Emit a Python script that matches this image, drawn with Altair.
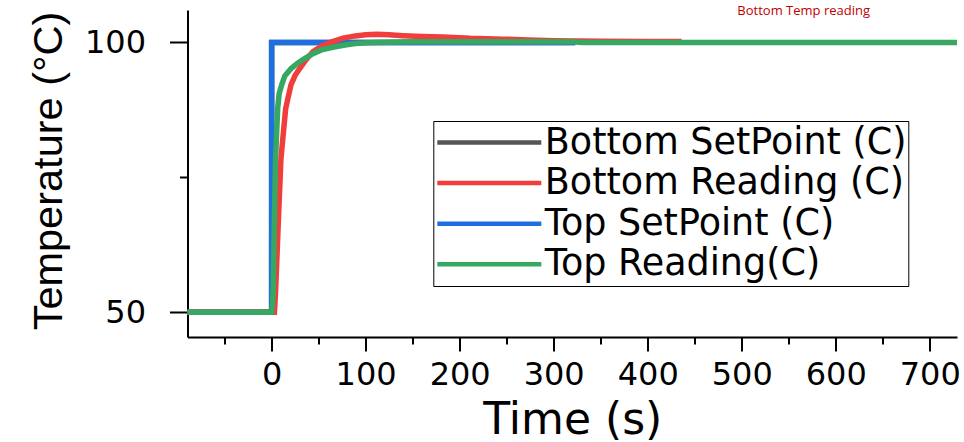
import altair as alt
import pandas as pd

# ---------------- data ----------------
series_names = ["Bottom SetPoint (C)", "Bottom Reading (C)", "Top SetPoint (C)", "Top Reading(C)"]
series_colors = ["#555555", "#f23d3d", "#1e6fe0", "#36a862"]
draw_order = ["Bottom SetPoint (C)", "Top SetPoint (C)", "Bottom Reading (C)", "Top Reading(C)"]

bottom_sp_t = [-89.5, 0, 0, 323]
bottom_sp_v = [50, 50, 100, 100]

top_sp_t = [-89.5, 0, 0, 323]
top_sp_v = [50, 50, 100, 100]

bottom_rd_t = [-89.5, 3, 4.2, 7, 9.9, 14.9, 20.5, 25, 30, 37, 44, 53, 64, 76, 89, 100,
               112, 125, 140, 160, 182, 211, 246, 273, 300, 350, 400, 436]
bottom_rd_v = [50, 50, 53.9, 66.2, 78.5, 87.7, 92.1, 93.9, 95.2, 96.9, 98.3, 99.3, 100.1,
               100.8, 101.2, 101.4, 101.5, 101.4, 101.25, 101.1, 101.0, 100.75, 100.6,
               100.45, 100.3, 100.2, 100.17, 100.15]

top_rd_t = [-89.5, 0, 1, 1.7, 2.8, 4.2, 6.4, 8, 10.6, 14, 21, 28, 35, 44, 53, 65, 78, 89,
            110, 150, 200, 260, 320, 330, 450, 600, 729]
top_rd_v = [50, 50, 51.5, 53.9, 66.2, 78.5, 87.7, 90.5, 92.1, 93.8, 95.2, 96.2, 97.0, 97.9,
            98.6, 99.1, 99.5, 99.8, 100.0, 100.1, 100.1, 100.1, 100.1, 100.0, 100.0, 100.0,
            100.0]

x_tick_values = [-50, 0, 50, 100, 150, 200, 250, 300, 350, 400, 450, 500, 550, 600, 650, 700]
y_tick_values = [50, 75, 100]
x_domain = [-89.5, 729]
y_domain = [45.4, 106]

x_title = "Time (s)"
y_title = "Temperature (°C)"
top_note = "Bottom Temp reading"

# ---------------- table ----------------
rows = []
for name, ts, vs in [
    (series_names[0], bottom_sp_t, bottom_sp_v),
    (series_names[1], bottom_rd_t, bottom_rd_v),
    (series_names[2], top_sp_t, top_sp_v),
    (series_names[3], top_rd_t, top_rd_v),
]:
    for i, (t, v) in enumerate(zip(ts, vs)):
        rows.append({"series": name, "t": t, "v": v, "idx": i})
df = pd.DataFrame(rows)

x_enc = alt.X(
    "t:Q",
    scale=alt.Scale(domain=x_domain, nice=False, zero=False),
    axis=alt.Axis(
        values=x_tick_values,
        labelExpr="datum.value % 100 === 0 ? datum.label : ''",
        tickSize={"condition": {"test": "datum.value % 100 === 0", "value": 14}, "value": 7},
        tickWidth=2, tickColor="black", domainWidth=2, domainColor="black",
        labelFont="DejaVu Sans", labelFontSize=32, labelColor="black", labelPadding=8,
        labelFlush=False, grid=False,
        title=x_title, titleFont="DejaVu Sans", titleFontSize=44, titleFontWeight="normal",
        titleColor="black", titleBaseline="alphabetic", titleY=96,
    ),
)
y_enc = alt.Y(
    "v:Q",
    scale=alt.Scale(domain=y_domain, nice=False, zero=False),
    axis=alt.Axis(
        values=y_tick_values,
        labelExpr="datum.value % 50 === 0 ? datum.label : ''",
        tickSize={"condition": {"test": "datum.value % 50 === 0", "value": 18}, "value": 8},
        tickWidth=2, tickColor="black", domainWidth=2, domainColor="black",
        labelFont="DejaVu Sans", labelFontSize=32, labelColor="black", labelPadding=24,
        grid=False,
        title=y_title, titleFont="Liberation Sans", titleFontSize=41.5, titleFontWeight="normal",
        titleColor="black", titleAngle=270, titleAlign="center", titleBaseline="alphabetic",
        titleX=-126.5, titleY=160.5,
    ),
)
color_enc = alt.Color(
    "series:N",
    scale=alt.Scale(domain=series_names, range=series_colors),
    legend=alt.Legend(
        title=None, orient="none", legendX=245.8, legendY=111,
        symbolType="stroke", symbolSize=10816, symbolStrokeWidth=4.5,
        labelFont="DejaVu Sans", labelFontSize=36.5, labelColor="black",
        labelOffset=1, labelLimit=600, clipHeight=40, rowPadding=0.6,
        padding=1.5, strokeColor="black", fillColor="white",
    ),
)

layers = []
for s in draw_order:
    layers.append(
        alt.Chart(df)
        .transform_filter(alt.datum.series == s)
        .mark_line(strokeWidth=5.5)
        .encode(x=x_enc, y=y_enc, color=color_enc, order="idx:Q")
    )

note = (
    alt.Chart(pd.DataFrame({"txt": [top_note]}))
    .mark_text(align="right", baseline="alphabetic", font="Open Sans", fontSize=13, color="#c00000")
    .encode(x=alt.value(682.5), y=alt.value(5), text="txt:N")
)

chart = (
    alt.layer(*layers, note)
    .properties(
        width=769.5, height=327,
        autosize=alt.AutoSizeParams(type="none"),
        padding={"left": 187.5, "top": 10, "right": 7, "bottom": 105},
        background="white",
    )
    .configure_view(stroke=None)
)

chart.save("out.html", embed_options={"renderer": "svg", "actions": False})
